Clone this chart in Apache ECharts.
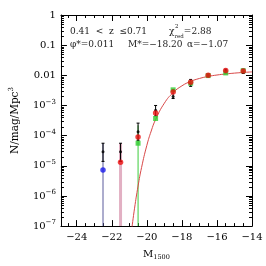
<!DOCTYPE html>
<html><head><meta charset="utf-8">
<script src="https://cdn.jsdelivr.net/npm/echarts@6/dist/echarts.min.js"></script>
<style>html,body{margin:0;padding:0;background:#fff}#c{width:266px;height:266px}</style>
</head><body><div id="c"></div>
<script>
// ---- data ----
const bins = [-22.5, -21.5, -20.5, -19.5, -18.5, -17.5, -16.5, -15.5, -14.5];
const blackVals = [2.9e-5, 2.9e-5, 1.35e-4, 6.9e-4, 2.0e-3, 5.2e-3, 9.8e-3, 1.4e-2, 1.35e-2];
const blackLo   = [1.4e-5, 1.4e-5, 7.0e-5, 4.5e-4, 1.7e-3, 4.3e-3, 8.8e-3, 1.2e-2, 1.15e-2];
const blackHi   = [5.6e-5, 5.6e-5, 2.6e-4, 1.0e-3, 3.3e-3, 7.3e-3, 1.1e-2, 1.6e-2, 1.6e-2];
const redBins = [-21.5, -20.5, -19.5, -18.5, -17.5, -16.5, -15.5, -14.5];
const redVals = [1.32e-5, 9.0e-5, 5.6e-4, 2.8e-3, 5.9e-3, 1.0e-2, 1.45e-2, 1.38e-2];
const greenBins = [-20.5, -19.5, -18.5, -17.5, -16.5, -15.5, -14.5];
const greenVals = [5.6e-5, 3.7e-4, 3.3e-3, 5.5e-3, 9.8e-3, 1.2e-2, 1.42e-2];
const blueBins = [-22.5];
const blueVals = [7.2e-6];
// error bars that run down to the bottom of the plot
const blueErrBins = [-22.5], blueErrLo = [1e-7], blueErrHi = [5.6e-5];
const redErrBins = [-21.5], redErrLo = [1e-7], redErrHi = [5.6e-5];
const greenErrBins = [-20.5], greenErrLo = [1e-7], greenErrHi = [2.2e-4];
// fitted curve
const fitM   = [-20.85, -20.7, -20.5, -20.3, -20.0, -19.75, -19.5, -19.0, -18.5, -18.0, -17.5, -17.0, -16.5, -16.0, -15.5, -15.0, -14.5, -14.0];
const fitPhi = [8.8e-8, 3.92e-7, 2.13e-6, 8.76e-6, 4.74e-5, 1.42e-4, 3.4e-4, 1.19e-3, 2.66e-3, 4.47e-3, 6.27e-3, 7.86e-3, 9.18e-3, 1.023e-2, 1.109e-2, 1.182e-2, 1.244e-2, 1.301e-2];
// ticks
const xMajor = [-24, -22, -20, -18, -16, -14];
const xMinor = [-24.5, -23.5, -23, -22.5, -21.5, -21, -20.5, -19.5, -19, -18.5, -17.5, -17, -16.5, -15.5, -15, -14.5];
const yMinor = [];
for (let e = -7; e < 0; e++) for (let k = 2; k <= 9; k++) yMinor.push(Number((k * Math.pow(10, e)).toPrecision(3)));

const FONT = 'DejaVu Serif';
const XMIN = -24.9, XMAX = -14, YMIN = 1e-7, YMAX = 1;

const chart = echarts.init(document.getElementById('c'));

function zip3(a, b, c) { return a.map((v, i) => [v, b[i], c[i]]); }
function zip2(a, b) { return a.map((v, i) => [v, b[i]]); }

function errSeries(data, color, width, cap, z) {
  return {
    type: 'custom', data, z, clip: true,
    encode: { x: 0, y: [1, 2] },
    renderItem(params, api) {
      const x = api.value(0), lo = api.value(1), hi = api.value(2);
      const p1 = api.coord([x, lo]), p2 = api.coord([x, hi]);
      const ch = [{ type: 'line', shape: { x1: p1[0], y1: p1[1], x2: p2[0], y2: p2[1] },
        style: { stroke: color, lineWidth: width } }];
      if (cap) {
        [p1, p2].forEach(p => ch.push({ type: 'line', shape: { x1: p[0] - cap, y1: p[1], x2: p[0] + cap, y2: p[1] },
          style: { stroke: color, lineWidth: 1 } }));
      }
      return { type: 'group', children: ch };
    }
  };
}

// minor log ticks on both y edges, placed by the y axis scale
const yMinorTickSeries = {
  type: 'custom', data: yMinor.map(v => [XMIN, v]), z: 10, silent: true,
  encode: { x: 0, y: 1 },
  renderItem(params, api) {
    const cs = params.coordSys;
    const p = api.coord([api.value(0), api.value(1)]);
    const y = Math.round(p[1]) + 0.5;
    return { type: 'group', children: [
      { type: 'line', shape: { x1: cs.x, y1: y, x2: cs.x + 3, y2: y }, style: { stroke: '#000', lineWidth: 1 } },
      { type: 'line', shape: { x1: cs.x + cs.width - 3, y1: y, x2: cs.x + cs.width, y2: y }, style: { stroke: '#000', lineWidth: 1 } }
    ] };
  }
};

function yLabel(v) {
  const e = Math.round(Math.log10(v));
  if (e === 0) return '1';
  if (e === -1) return '0.1';
  if (e === -2) return '0.01';
  return '10{s|−' + (-e) + '}';
}
function xLabel(v) { return v < 0 ? '−' + Math.abs(v) : String(v); }

const axLine = { show: true, lineStyle: { color: '#000', width: 1 } };
const labelStyle = { fontFamily: FONT, fontSize: 10, color: '#000' };
const T = '9px "DejaVu Serif"';

const option = {
  animation: false,
  backgroundColor: '#fff',
  grid: { left: 51, right: 14, top: 15, bottom: 37, containLabel: false },
  xAxis: [
    { type: 'value', position: 'bottom', min: XMIN, max: XMAX, axisLine: axLine,
      axisTick: { inside: true, length: 6, lineStyle: { color: '#000' }, customValues: xMajor },
      axisLabel: Object.assign({ margin: 6, customValues: xMajor, formatter: xLabel }, labelStyle),
      splitLine: { show: false },
      name: 'M{s|1500}', nameLocation: 'middle', nameGap: 20,
      nameTextStyle: { fontFamily: FONT, fontSize: 10, color: '#000', lineHeight: 14,
        rich: { s: { fontFamily: FONT, fontSize: 6.5, lineHeight: 8, verticalAlign: 'bottom', color: '#000' } } } },
    { type: 'value', position: 'bottom', min: XMIN, max: XMAX, axisLine: { show: false },
      axisTick: { inside: true, length: 3, lineStyle: { color: '#000' }, customValues: xMinor },
      axisLabel: { show: false }, splitLine: { show: false } },
    { type: 'value', position: 'top', min: XMIN, max: XMAX, axisLine: axLine,
      axisTick: { inside: true, length: 6, lineStyle: { color: '#000' }, customValues: xMajor },
      axisLabel: { show: false }, splitLine: { show: false } },
    { type: 'value', position: 'top', min: XMIN, max: XMAX, axisLine: { show: false },
      axisTick: { inside: true, length: 3, lineStyle: { color: '#000' }, customValues: xMinor },
      axisLabel: { show: false }, splitLine: { show: false } }
  ],
  yAxis: [
    { type: 'log', logBase: 10, position: 'left', min: YMIN, max: YMAX, interval: 1, axisLine: axLine,
      axisTick: { inside: true, length: 6, lineStyle: { color: '#000' } },
      axisLabel: Object.assign({ margin: 5, formatter: yLabel, lineHeight: 14,
        rich: { s: { fontFamily: FONT, fontSize: 7, lineHeight: 9, verticalAlign: 'top', color: '#000' } } }, labelStyle),
      splitLine: { show: false },
      name: 'N/mag/Mpc{s|3}', nameLocation: 'middle', nameGap: 37, nameRotate: 90,
      nameTextStyle: { fontFamily: FONT, fontSize: 10.5, color: '#000', lineHeight: 14,
        rich: { s: { fontFamily: FONT, fontSize: 7, lineHeight: 9, verticalAlign: 'top', color: '#000' } } } },
    { type: 'log', logBase: 10, position: 'right', min: YMIN, max: YMAX, interval: 1, axisLine: axLine,
      axisTick: { inside: true, length: 6, lineStyle: { color: '#000' } },
      axisLabel: { show: false }, splitLine: { show: false } }
  ],
  graphic: [
    { type: 'text', left: 70, top: 27, style: { text: '0.41  <  z  ≤0.71', font: T, fill: '#222' } },
    { type: 'text', left: 169, top: 27, style: { text: 'χ{s|red}=2.88', font: T, fill: '#222',
        rich: { s: { fontFamily: FONT, fontSize: 5.5, lineHeight: 16, verticalAlign: 'bottom', fill: '#222' } } } },
    { type: 'text', left: 175, top: 24, style: { text: '2', font: '5.5px "DejaVu Serif"', fill: '#222' } },
    { type: 'text', left: 70, top: 40, style: { text: 'φ*=0.011', font: T, fill: '#222' } },
    { type: 'text', left: 128, top: 40, style: { text: 'M*=−18.20', font: T, fill: '#222' } },
    { type: 'text', left: 187, top: 40, style: { text: 'α=−1.07', font: T, fill: '#222' } }
  ],
  series: [
    errSeries(zip3(blueErrBins, blueErrLo, blueErrHi), '#5a5a9c', 1, 0, 2),
    errSeries(zip3(redErrBins, redErrLo, redErrHi), '#e2b0c3', 3, 0, 2),
    errSeries(zip3(greenErrBins, greenErrLo, greenErrHi), '#3ccc3c', 1, 0, 2),
    errSeries(zip3(bins, blackLo, blackHi), '#000', 1, 1.5, 3),
    { type: 'line', data: zip2(fitM, fitPhi), smooth: true, showSymbol: false, clip: true, z: 4,
      lineStyle: { color: '#d84848', width: 1 } },
    { type: 'scatter', data: zip2(bins, blackVals), symbol: 'circle', symbolSize: 3, z: 5,
      itemStyle: { color: '#000' } },
    { type: 'scatter', data: zip2(greenBins, greenVals), symbol: 'rect', symbolSize: 5, z: 6,
      itemStyle: { color: '#2ecc2e' } },
    { type: 'scatter', data: zip2(redBins, redVals), symbol: 'circle', symbolSize: 5.5, z: 7,
      itemStyle: { color: '#ee1010' } },
    { type: 'scatter', data: zip2(blueBins, blueVals), symbol: 'circle', symbolSize: 5.5, z: 7,
      itemStyle: { color: '#1a1aee' } },
    yMinorTickSeries
  ]
};
chart.setOption(option);
</script>
</body></html>
